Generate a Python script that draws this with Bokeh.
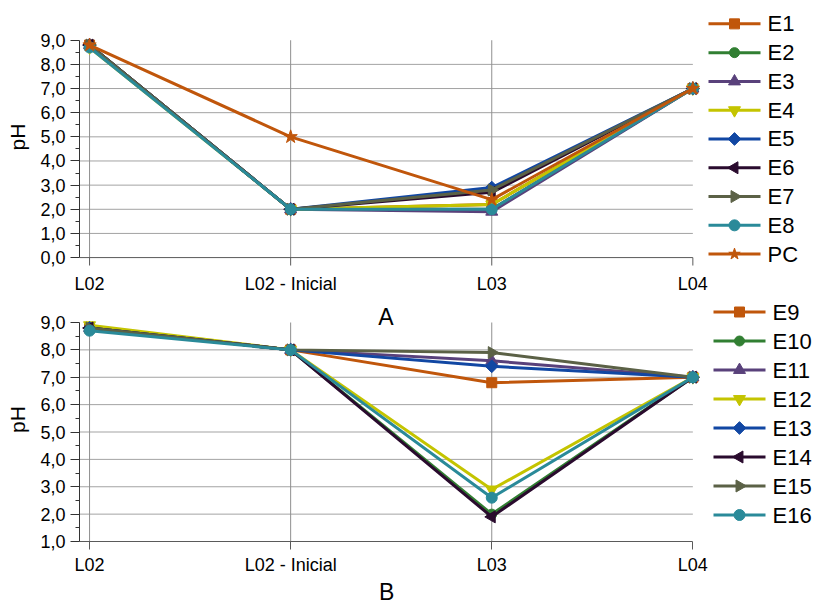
from bokeh.core.properties import value
from bokeh.embed import file_html
from bokeh.layouts import column
from bokeh.models import ColumnDataSource, FixedTicker, Label, Range1d
from bokeh.plotting import figure
from bokeh.resources import INLINE

# ---- data -------------------------------------------------------------
categories = ["L02", "L02 - Inicial", "L03", "L04"]

# panel A
e1 = [8.8, 2.0, 2.2, 7.0]
e2 = [8.8, 2.0, 2.0, 7.0]
e3 = [8.8, 2.0, 1.9, 7.0]
e4 = [8.7, 2.0, 2.2, 7.0]
e5 = [8.8, 2.0, 2.9, 7.0]
e6 = [8.8, 2.0, 2.7, 7.0]
e7 = [8.8, 2.0, 2.8, 7.0]
e8 = [8.7, 2.0, 2.0, 7.0]
pc = [8.8, 5.0, 2.4, 7.0]

# panel B
e9 = [8.8, 8.0, 6.8, 7.0]
e10 = [8.8, 8.0, 2.0, 7.0]
e11 = [8.8, 8.0, 7.6, 7.0]
e12 = [8.9, 8.0, 2.9, 7.0]
e13 = [8.8, 8.0, 7.4, 7.0]
e14 = [8.8, 8.0, 1.9, 7.0]
e15 = [8.8, 8.0, 7.9, 7.0]
e16 = [8.7, 8.0, 2.6, 7.0]

names_a = ["E1", "E2", "E3", "E4", "E5", "E6", "E7", "E8", "PC"]
series_a = [e1, e2, e3, e4, e5, e6, e7, e8, pc]
names_b = ["E9", "E10", "E11", "E12", "E13", "E14", "E15", "E16"]
series_b = [e9, e10, e11, e12, e13, e14, e15, e16]

y_ticks_a = [0, 1, 2, 3, 4, 5, 6, 7, 8, 9]
y_ticks_b = [1, 2, 3, 4, 5, 6, 7, 8, 9]

# ---- styling ----------------------------------------------------------
FONT = "Liberation Sans"
ORANGE = "#C0560B"
AXIS_GREY = "#5a5a5a"
W = 815
LEFT = 79                    # px reserved for the value axis
X_LO, X_HI = -0.05, 3.0      # span of the category axis
PX_X = 201.1                 # px per category step
ROW = 29                     # px per key entry
NBSP = "\u00a0"

# (color, marker, size, angle) for the 8 experiment slots, plus the PC series
slot_styles = [
    (ORANGE, "square", 10, 0.0),
    ("#317F32", "circle", 10, 0.0),
    ("#59417B", "triangle", 12, 0.0),
    ("#C4C400", "inverted_triangle", 12, 0.0),
    ("#1147A3", "square", 9, 0.7854),
    ("#2A0B2E", "triangle", 12, 1.5708),
    ("#5B6146", "triangle", 12, -1.5708),
    ("#2A8A99", "circle", 11, 0.0),
]
pc_style = (ORANGE, "star", 14, 0.0)

x_pos = list(range(len(categories)))


def decimal_comma(v):
    return f"{v:.1f}".replace(".", ",")


def build_panel(names, series, styles, y_ticks, height, top_px, base_px,
                px_y, frame_top, frame_bottom, key_x0, key_first,
                own_axis_line, x_label=None):
    """top_px: page y of the canvas top; base_px: page y of y_ticks[0];
    frame_top / frame_bottom: page y of the plotting frame edges."""
    y_lo, y_hi = y_ticks[0], y_ticks[-1]

    def xv(page_x):
        return X_LO + (page_x - LEFT) / PX_X

    def yv(page_y):
        return y_lo + (base_px - page_y) / px_y

    p = figure(width=W, height=height, output_backend="svg",
               toolbar_location=None,
               x_range=Range1d(X_LO, xv(W)),
               y_range=Range1d(yv(frame_bottom), yv(frame_top)),
               min_border_left=LEFT, min_border_right=0,
               min_border_top=frame_top - top_px,
               min_border_bottom=top_px + height - frame_bottom)
    p.outline_line_color = None
    p.background_fill_color = "white"
    p.grid.visible = False

    # horizontal guide lines at the inner major ticks
    inner = y_ticks[1:-1]
    p.segment(x0=[X_LO] * len(inner), y0=inner, x1=[X_HI] * len(inner),
              y1=inner, line_color="#a3a3a3", line_width=1)
    # vertical guide lines at the categories, limited to the value axis span
    p.segment(x0=x_pos[:-1], y0=[y_lo] * (len(x_pos) - 1),
              x1=x_pos[:-1], y1=[y_hi] * (len(x_pos) - 1),
              line_color="#8f8f8f", line_width=1)

    # category axis
    xa = p.xaxis[0]
    xa.ticker = FixedTicker(ticks=x_pos)
    xa.bounds = (X_LO, X_HI)
    xa.major_label_overrides = dict(zip(x_pos, categories))
    xa.major_tick_in = 0
    xa.minor_tick_out = 0
    xa.major_label_text_font = FONT
    xa.major_label_text_font_size = "18px"
    xa.major_label_text_color = "#000000"
    if own_axis_line:
        # the frame reaches below the zero line, so the baseline and its
        # category ticks are drawn at y = y_lo
        xa.axis_line_color = None
        xa.major_tick_line_color = None
        xa.major_tick_out = 0
        xa.major_label_standoff = 3 + (base_px + 13) - frame_bottom
        p.segment(x0=[X_LO], y0=[y_lo], x1=[X_HI], y1=[y_lo],
                  line_color=AXIS_GREY, line_width=1)
        p.segment(x0=x_pos, y0=[y_lo] * len(x_pos), x1=x_pos,
                  y1=[yv(base_px + 8)] * len(x_pos),
                  line_color=AXIS_GREY, line_width=1)
    else:
        xa.axis_line_color = AXIS_GREY
        xa.major_tick_line_color = AXIS_GREY
        xa.major_tick_out = 8
        xa.major_label_standoff = 5
    if x_label:
        # the caption is centred under the category span (L02..L04), not
        # under the whole frame that also holds the key: trailing no-break
        # spaces move its centre left by half of the key's width
        pad = round((W - 1 - LEFT - (X_HI - X_LO) * PX_X) / 6.39)
        xa.axis_label = x_label + NBSP * pad
        xa.axis_label_text_font = FONT
        xa.axis_label_text_font_size = "23px"
        xa.axis_label_text_font_style = "normal"
        xa.axis_label_text_color = "#000000"
        xa.axis_label_standoff = 1

    # value axis
    ya = p.yaxis[0]
    minor = [t + 0.5 for t in y_ticks[:-1]]
    ya.ticker = FixedTicker(ticks=y_ticks, minor_ticks=minor)
    ya.major_label_overrides = {t: decimal_comma(t) for t in y_ticks}
    ya.bounds = (y_lo, y_hi)
    ya.major_tick_out = 9
    ya.major_tick_in = 0
    ya.minor_tick_out = 4
    ya.minor_tick_in = 0
    ya.major_label_standoff = 5
    ya.major_label_text_font = FONT
    ya.major_label_text_font_size = "18px"
    ya.major_label_text_color = "#000000"
    ya.axis_line_color = "#333333"
    ya.major_tick_line_color = "#333333"
    ya.minor_tick_line_color = "#333333"
    ya.axis_label = "pH"
    ya.axis_label_text_font = FONT
    ya.axis_label_text_font_size = "21px"
    ya.axis_label_text_font_style = "normal"
    ya.axis_label_text_color = "#000000"
    ya.axis_label_standoff = 8

    for vals, (color, marker, size, angle) in zip(series, styles):
        p.line(x_pos, vals, line_color=color, line_width=3)
        p.scatter(x_pos, vals, marker=marker, size=size, angle=angle,
                  fill_color=color, line_color=color)

    # series key at the right: short line with its marker, then the name
    n = len(names)
    rows_y = [yv(key_first + ROW * i) for i in range(n)]
    key = ColumnDataSource(dict(
        y=rows_y,
        x0=[xv(key_x0)] * n,
        x1=[xv(key_x0 + 52)] * n,
        xm=[xv(key_x0 + 26)] * n,
        xt=[xv(key_x0 + 59)] * n,
        name=names,
        color=[s[0] for s in styles],
        marker=[s[1] for s in styles],
        size=[min(s[2], 12) for s in styles],
        angle=[s[3] for s in styles],
    ))
    p.segment(x0="x0", y0="y", x1="x1", y1="y", line_color="color",
              line_width=3, source=key)
    p.scatter(x="xm", y="y", marker="marker", size="size", angle="angle",
              fill_color="color", line_color="color", source=key)
    p.text(x="xt", y="y", text="name", text_baseline="middle",
           text_align="left", text_font=value(FONT),
           text_font_size=value("22px"), text_color="#000000", source=key)
    return p, yv


top, _ = build_panel(names_a, series_a, slot_styles + [pc_style], y_ticks_a,
                     height=296, top_px=0, base_px=259, px_y=219 / 9,
                     frame_top=5, frame_bottom=270, key_x0=708,
                     key_first=23.5, own_axis_line=True)

bottom, yv_b = build_panel(names_b, series_b, slot_styles, y_ticks_b,
                           height=311, top_px=296, base_px=541, px_y=219 / 8,
                           frame_top=297, frame_bottom=541, key_x0=713,
                           key_first=311.5, own_axis_line=False, x_label="B")

# caption of the upper panel sits in the band above the lower one
bottom.add_layout(Label(x=X_LO + (385.5 - LEFT) / PX_X, y=yv_b(316),
                        text="A", text_align="center", text_baseline="middle",
                        text_font=FONT, text_font_size="23px",
                        text_color="#000000"))

layout = column(top, bottom, spacing=0)
open("out.html", "w").write(file_html(layout, INLINE))
